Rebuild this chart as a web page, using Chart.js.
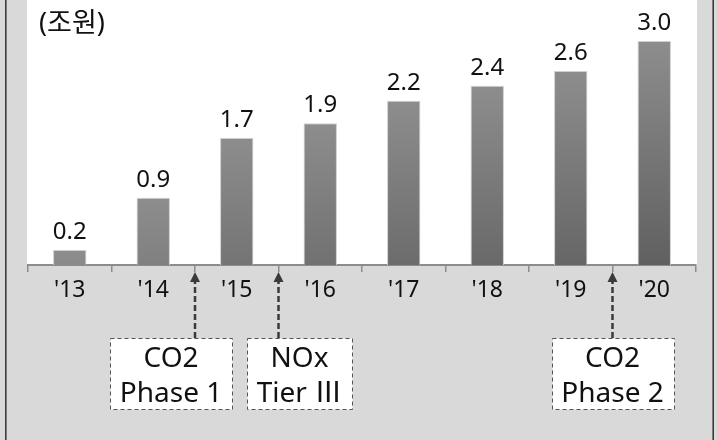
<!DOCTYPE html>
<html>
<head>
<meta charset="utf-8">
<script src="https://cdn.jsdelivr.net/npm/chart.js@4"></script>
<style>
  html, body { margin: 0; padding: 0; background: #d9d9d9; }
  #wrap { width: 717px; height: 440px; position: relative; }
</style>
</head>
<body>
<div id="wrap"><canvas id="c" width="717" height="440"></canvas></div>
<script>
// Annual market size (trillion won)
const years = ["'13", "'14", "'15", "'16", "'17", "'18", "'19", "'20"];
const values = [0.2, 0.9, 1.7, 1.9, 2.2, 2.4, 2.6, 3.0];
const unitLabel = '(조원)';

// Regulation milestones: each falls between the listed year and the next one
const eventYears = ["'14", "'15", "'19"];
const eventLines = [['CO2', 'Phase 1'], ['NOx', 'Tier Ⅲ'], ['CO2', 'Phase 2']];

const FONT = '"Noto Sans", "Noto Sans CJK KR", sans-serif';
const NUMERAL = '"Noto Sans CJK KR", sans-serif';

// Vertical shading per bar: lighter at the top, darker toward the base
function barFill(ctx) {
  const chart = ctx.chart;
  if (!chart.chartArea || ctx.type !== 'data') return '#8c8c8c';
  const ys = chart.scales.y;
  const top = ys.getPixelForValue(ctx.parsed.y);
  const base = ys.getPixelForValue(0);
  const g = chart.ctx.createLinearGradient(0, top, 0, base);
  const d = Math.round(141 - 0.2 * (base - top));
  g.addColorStop(0, 'rgb(141,141,141)');
  g.addColorStop(1, `rgb(${d},${d},${d})`);
  return g;
}

const isNumeral = ch => /[\u2160-\u217f]/.test(ch);

// Splits a line into runs so Roman numerals get their own face
function runsOf(ctx, text, size) {
  const runs = [];
  for (const ch of text) {
    const n = isNumeral(ch);
    const last = runs[runs.length - 1];
    if (last && last.n === n) last.t += ch; else runs.push({ t: ch, n });
  }
  runs.forEach(r => {
    ctx.font = `${size}px ${r.n ? NUMERAL : FONT}`;
    r.w = ctx.measureText(r.t).width;
  });
  return runs;
}

function drawMixed(ctx, text, cx, y, size) {
  const runs = runsOf(ctx, text, size);
  const total = runs.reduce((s, r) => s + r.w, 0);
  let x = cx - total / 2;
  ctx.textAlign = 'left';
  runs.forEach(r => {
    ctx.font = `${size}px ${r.n ? NUMERAL : FONT}`;
    ctx.fillText(r.t, x, y);
    x += r.w;
  });
}

function mixedWidth(ctx, text, size) {
  return runsOf(ctx, text, size).reduce((s, r) => s + r.w, 0);
}

const panel = {
  id: 'panel',
  beforeDraw(chart) {
    const { ctx, chartArea: a, width, height } = chart;
    ctx.save();
    ctx.fillStyle = '#d9d9d9';
    ctx.fillRect(0, 0, width, height);
    ctx.fillStyle = '#ffffff';
    ctx.fillRect(a.left - 1, 0, a.right - a.left + 2, a.bottom);
    ctx.strokeStyle = '#3c3c3c';
    ctx.lineWidth = 1.6;
    ctx.beginPath();
    ctx.moveTo(5.8, 0); ctx.lineTo(5.8, height);
    ctx.moveTo(713.2, 0); ctx.lineTo(713.2, height);
    ctx.stroke();
    ctx.fillStyle = '#111';
    ctx.font = `27px ${FONT}`;
    ctx.textAlign = 'left';
    ctx.textBaseline = 'alphabetic';
    ctx.fillText(unitLabel, 39, 32);
    ctx.restore();
  }
};

const valueLabels = {
  id: 'valueLabels',
  afterDatasetsDraw(chart) {
    const { ctx } = chart;
    const meta = chart.getDatasetMeta(0);
    ctx.save();
    ctx.fillStyle = '#111';
    ctx.font = `24px ${FONT}`;
    ctx.textAlign = 'center';
    ctx.textBaseline = 'alphabetic';
    meta.data.forEach((bar, i) => {
      ctx.fillText(values[i].toFixed(1), bar.x, bar.y - 11);
    });
    ctx.restore();
  }
};

const milestones = {
  id: 'milestones',
  afterDraw(chart) {
    const { ctx } = chart;
    const xs = chart.scales.x;
    const axisY = chart.chartArea.bottom;
    const boxTop = 338, boxBottom = 409;
    const boxShift = [-24, 21, 0];
    const size = 28;
    ctx.save();
    eventYears.forEach((yr, k) => {
      const i = years.indexOf(yr);
      const ax = (xs.getPixelForValue(i) + xs.getPixelForValue(i + 1)) / 2;
      // dashed arrow up to the axis
      ctx.strokeStyle = '#3a3a3a';
      ctx.fillStyle = '#3a3a3a';
      ctx.lineWidth = 2.5;
      ctx.setLineDash([6, 3]);
      ctx.beginPath();
      ctx.moveTo(ax, boxTop);
      ctx.lineTo(ax, axisY + 16);
      ctx.stroke();
      ctx.setLineDash([]);
      ctx.beginPath();
      ctx.moveTo(ax, axisY + 7);
      ctx.lineTo(ax - 5, axisY + 17);
      ctx.lineTo(ax + 5, axisY + 17);
      ctx.closePath();
      ctx.fill();

      // label box
      const lines = eventLines[k];
      const w = Math.round(Math.max(...lines.map(t => mixedWidth(ctx, t, size))) + 20);
      const cx = ax + boxShift[k];
      const left = Math.round(cx - w / 2) + 0.5;
      ctx.fillStyle = '#ffffff';
      ctx.fillRect(left, boxTop + 0.5, w, boxBottom - boxTop);
      ctx.strokeStyle = '#555';
      ctx.lineWidth = 1;
      ctx.setLineDash([4, 3]);
      ctx.strokeRect(left, boxTop + 0.5, w, boxBottom - boxTop);
      ctx.setLineDash([]);
      ctx.fillStyle = '#111';
      ctx.textBaseline = 'alphabetic';
      drawMixed(ctx, lines[0], cx, 367, size);
      drawMixed(ctx, lines[1], cx, 402, size);
    });
    ctx.restore();
  }
};

new Chart(document.getElementById('c'), {
  type: 'bar',
  data: {
    labels: years,
    datasets: [{
      data: values,
      backgroundColor: barFill,
      borderColor: '#cfcfcf',
      borderWidth: 1,
      categoryPercentage: 1,
      barPercentage: 0.4
    }]
  },
  options: {
    responsive: false,
    animation: false,
    events: [],
    layout: { padding: { left: 28, right: 21, top: 0, bottom: 0 } },
    plugins: { legend: { display: false }, tooltip: { enabled: false }, title: { display: false } },
    scales: {
      x: {
        grid: { display: true, drawOnChartArea: false, offset: true, tickLength: 7, color: '#8c8c8c', lineWidth: 1.5 },
        border: { display: true, color: '#8c8c8c', width: 2 },
        ticks: { color: '#111', font: { size: 23, family: FONT }, padding: 5, maxRotation: 0 },
        afterFit(scale) { scale.height = 175; }
      },
      y: {
        display: false,
        min: 0,
        max: 3.55
      }
    }
  },
  plugins: [panel, valueLabels, milestones]
});
</script>
</body>
</html>
